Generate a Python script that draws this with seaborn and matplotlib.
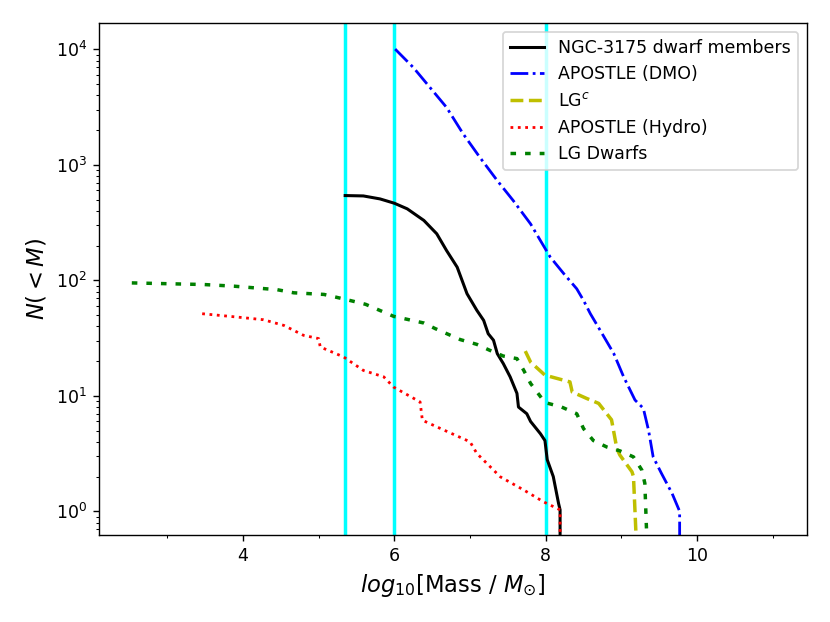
import numpy as np
import pandas as pd
import matplotlib
matplotlib.use("Agg")
import matplotlib.pyplot as plt
from matplotlib.ticker import MultipleLocator
import seaborn as sns

# NGC-3175 dwarf members
ngc_x = [5.35, 5.59, 5.81, 6.0, 6.17, 6.39, 6.56, 6.69, 6.83, 6.96, 7.09, 7.18, 7.24, 7.31,
         7.36, 7.44, 7.53, 7.62, 7.64, 7.75, 7.80, 7.93, 7.99, 8.02, 8.10, 8.17, 8.19, 8.19]
ngc_n = [542, 538, 507, 465, 416, 330, 253, 181, 130, 76.6, 55, 45, 34.5, 30.3,
         23.2, 19, 14.6, 10.5, 8.0, 7.0, 6.0, 4.7, 4.1, 2.8, 2.0, 1.17, 1.03, 0.5]

# APOSTLE (DMO)
dmo_x = [6.01, 6.25, 6.47, 6.69, 6.91, 7.13, 7.36, 7.57, 7.80, 7.93, 8.06, 8.24, 8.41, 8.50,
         8.59, 8.72, 8.90, 9.03, 9.18, 9.29, 9.36, 9.42, 9.53, 9.67, 9.77, 9.77]
dmo_n = [10050, 6970, 4680, 3140, 1850, 1160, 730, 491, 308, 221, 159, 114, 84.5, 67,
         51.4, 36.9, 23.2, 14.6, 9.2, 7.8, 5.0, 2.96, 2.13, 1.43, 1.0, 0.5]

# LG^c
lgc_x = [7.73, 7.80, 7.99, 8.32, 8.35, 8.54, 8.70, 8.87, 8.94, 8.98, 9.14, 9.16, 9.20]
lgc_n = [24.4, 19.6, 15.1, 13.2, 10.8, 9.5, 8.6, 6.2, 3.5, 3.07, 2.2, 2.0, 0.5]

# APOSTLE (Hydro)
hyd_x = [3.46, 3.92, 4.27, 4.54, 4.80, 5.00, 5.02, 5.33, 5.59, 5.86, 5.99, 6.34, 6.37, 6.61,
         7.00, 7.09, 7.40, 7.71, 7.97, 8.19, 8.19]
hyd_n = [51.4, 48.1, 45.6, 40.7, 33.4, 31.3, 26.5, 21.7, 16.6, 14.6, 11.9, 8.85, 6.15, 5.21,
         4.0, 3.17, 1.99, 1.53, 1.21, 1.03, 0.5]

# LG Dwarfs
lgd_x = [2.53, 3.48, 3.88, 4.45, 4.67, 5.07, 5.33, 5.46, 5.62, 5.99, 6.39, 6.54, 6.87, 7.09,
         7.26, 7.44, 7.62, 7.71, 7.80, 7.99, 8.21, 8.41, 8.50, 8.63, 8.81, 8.98, 9.16, 9.27,
         9.31, 9.34]
lgd_n = [95, 92, 89, 83, 78, 75.5, 69, 65.8, 62, 48.8, 42.7, 38.2, 30.7, 27.9,
         24.8, 22.1, 21.0, 16.6, 12.8, 8.75, 8.0, 7.0, 5.2, 4.1, 3.6, 3.34, 2.96, 2.28,
         1.75, 0.5]

cuts = [5.35, 6.0, 8.0]

W, H, DPI = 830, 622, 125
fig, ax = plt.subplots(figsize=(W / DPI, H / DPI), dpi=DPI)
fig.subplots_adjust(left=0.1196, right=0.972, top=0.963, bottom=0.1404)

for c in cuts:
    ax.axvline(c, color="cyan", lw=2, zorder=1)

series = [
    (ngc_x, ngc_n, "NGC-3175 dwarf members", dict(color="black", lw=1.75, linestyle="-")),
    (dmo_x, dmo_n, "APOSTLE (DMO)", dict(color="blue", lw=1.6, linestyle="-.")),
    (lgc_x, lgc_n, "LG$^c$", dict(color="y", lw=2, linestyle="--")),
    (hyd_x, hyd_n, "APOSTLE (Hydro)", dict(color="red", lw=1.6, linestyle=":")),
    (lgd_x, lgd_n, "LG Dwarfs", dict(color="green", lw=2, linestyle=(0, (1.6, 2.6)))),
]
for xs, ns, lab, st in series:
    df = pd.DataFrame({"x": xs, "n": ns})
    sns.lineplot(data=df, x="x", y="n", ax=ax, sort=False, estimator=None,
                 label=lab, zorder=2, **st)

ax.set_yscale("log")
ax.set_xlim(2.1, 11.45)
ax.set_ylim(0.628, 16900)
ax.xaxis.set_major_locator(MultipleLocator(2))
ax.xaxis.set_minor_locator(MultipleLocator(1))
ax.tick_params(labelsize=10)
ax.set_xlabel(r"$log_{10}$[Mass / $M_{\odot}$]", fontsize=13)
ax.set_ylabel(r"$N(<M)$", fontsize=13)
ax.legend(loc="upper right", fontsize=10)

fig.savefig("out.png", dpi=DPI)
